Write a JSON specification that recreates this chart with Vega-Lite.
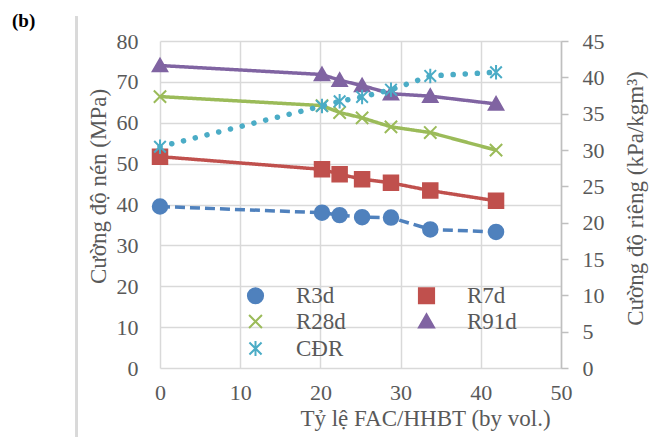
{
  "$schema": "https://vega.github.io/schema/vega-lite/v6.json",
  "autosize": {"type": "none"},
  "width": 401,
  "height": 327,
  "padding": {"left": 160, "top": 41, "right": 92, "bottom": 69},
  "background": "white",
  "config": {"view": {"stroke": null}, "font": "Liberation Serif"},
  "title": {"text": "(b)", "anchor": "start", "frame": "group", "dx": -148, "dy": 34, "offset": 4, "baseline": "alphabetic", "font": "Liberation Serif", "fontWeight": "bold", "fontSize": 19, "color": "#000000"},
  "data": {"values": [
    {"x": 0, "series": "R3d", "v": 39.5}, {"x": 20.2, "series": "R3d", "v": 38.0}, {"x": 22.4, "series": "R3d", "v": 37.4}, {"x": 25.2, "series": "R3d", "v": 36.9}, {"x": 28.8, "series": "R3d", "v": 36.8}, {"x": 33.7, "series": "R3d", "v": 33.9}, {"x": 41.9, "series": "R3d", "v": 33.3},
    {"x": 0, "series": "R7d", "v": 51.7}, {"x": 20.2, "series": "R7d", "v": 48.6}, {"x": 22.4, "series": "R7d", "v": 47.4}, {"x": 25.2, "series": "R7d", "v": 46.2}, {"x": 28.8, "series": "R7d", "v": 45.3}, {"x": 33.7, "series": "R7d", "v": 43.4}, {"x": 41.9, "series": "R7d", "v": 40.9},
    {"x": 0, "series": "R28d", "v": 66.4}, {"x": 20.2, "series": "R28d", "v": 64.2}, {"x": 22.4, "series": "R28d", "v": 62.5}, {"x": 25.2, "series": "R28d", "v": 61.2}, {"x": 28.8, "series": "R28d", "v": 59.0}, {"x": 33.7, "series": "R28d", "v": 57.6}, {"x": 41.9, "series": "R28d", "v": 53.3},
    {"x": 0, "series": "R91d", "v": 74.0}, {"x": 20.2, "series": "R91d", "v": 71.8}, {"x": 22.4, "series": "R91d", "v": 70.4}, {"x": 25.2, "series": "R91d", "v": 69.1}, {"x": 28.8, "series": "R91d", "v": 67.1}, {"x": 33.7, "series": "R91d", "v": 66.5}, {"x": 41.9, "series": "R91d", "v": 64.6},
    {"x": 0, "series": "CĐR", "v": 30.45}, {"x": 20.2, "series": "CĐR", "v": 36.05}, {"x": 22.4, "series": "CĐR", "v": 36.7}, {"x": 25.2, "series": "CĐR", "v": 37.3}, {"x": 28.8, "series": "CĐR", "v": 38.3}, {"x": 33.7, "series": "CĐR", "v": 40.2}, {"x": 41.9, "series": "CĐR", "v": 40.7}
  ]},
  "encoding": {
    "x": {"field": "x", "type": "quantitative", "scale": {"domain": [0, 50], "nice": false, "zero": false},
      "axis": {"values": [0, 10, 20, 30, 40, 50], "grid": true, "gridColor": "#d9d9d9", "gridWidth": 1.5, "domain": false, "ticks": false, "labelFontSize": 22, "labelColor": "#595959", "labelFont": "Liberation Serif", "labelPadding": 14, "labelOverlap": false, "labelFlush": false, "labelBound": false,
        "title": "Tỷ lệ FAC/HHBT (by vol.)", "titleFont": "Liberation Serif", "titleFontSize": 23, "titleFontWeight": "normal", "titleColor": "#595959", "titleX": 265, "titleY": 57, "titleAlign": "center", "titleBaseline": "alphabetic"}}
  },
  "layer": [
    {
      "transform": [{"filter": "datum.series != 'CĐR'"}],
      "encoding": {
        "y": {"field": "v", "type": "quantitative", "scale": {"domain": [0, 80], "nice": false},
          "axis": {"values": [0, 10, 20, 30, 40, 50, 60, 70, 80], "grid": true, "gridColor": "#d9d9d9", "gridWidth": 1.5, "domain": false, "ticks": false, "labelFontSize": 22, "labelColor": "#595959", "labelFont": "Liberation Serif", "labelPadding": 22, "labelOverlap": false, "labelBound": false, "labelFlush": false,
            "title": "Cường độ nén (MPa)", "titleFont": "Liberation Serif", "titleFontSize": 23, "titleFontWeight": "normal", "titleColor": "#595959", "titleAngle": -90, "titleX": -55, "titleY": 145, "titleAlign": "center", "titleBaseline": "alphabetic"}}
      },
      "layer": [
        {
          "mark": {"type": "rule", "color": "#d9d9d9", "strokeWidth": 1.5, "clip": false},
          "encoding": {
            "x": {"datum": -10.4, "type": "quantitative"},
            "y": {"datum": 86, "type": "quantitative"},
            "y2": {"datum": -17}
          }
        },
        {
          "mark": {"type": "line", "strokeWidth": 3.5, "clip": false},
          "encoding": {
            "color": {"field": "series", "type": "nominal",
              "scale": {"domain": ["R3d", "R7d", "R28d", "R91d", "CĐR"], "range": ["#4f81bd", "#c0504d", "#9bbb59", "#8064a2", "#4bacc6"]},
              "legend": {"title": null, "orient": "none", "direction": "horizontal", "legendX": 84, "legendY": 243, "columns": 2, "columnPadding": 68, "rowPadding": 2, "padding": 0,
                "labelFont": "Liberation Serif", "labelFontSize": 23, "labelColor": "#595959", "labelOffset": 29, "symbolSize": 230, "symbolStrokeWidth": 2}
            },
            "strokeDash": {"field": "series", "type": "nominal", "scale": {"domain": ["R3d", "R7d", "R28d", "R91d"], "range": [[10, 5], [1, 0], [1, 0], [1, 0]]}, "legend": null}
          }
        },
        {
          "mark": {"type": "point", "filled": true, "opacity": 1, "size": 210, "strokeWidth": 2, "clip": false},
          "encoding": {
            "color": {"field": "series", "type": "nominal", "legend": null},
            "stroke": {"field": "series", "type": "nominal", "scale": {"domain": ["R3d", "R7d", "R28d", "R91d", "CĐR"], "range": ["#4f81bd", "#c0504d", "#9bbb59", "#8064a2", "#4bacc6"]}, "legend": null},
            "shape": {"field": "series", "type": "nominal", "scale": {"domain": ["R3d", "R7d", "R28d", "R91d", "CĐR"], "range": ["circle", "square", "M-0.85,-0.85L0.85,0.85M-0.85,0.85L0.85,-0.85", "M0,-0.95L1,0.8L-1,0.8Z", "M-0.8,-0.8L0.8,0.8M-0.8,0.8L0.8,-0.8M0,-1L0,1"]}, "legend": null}
          }
        }
      ]
    },
    {
      "transform": [{"filter": "datum.series == 'CĐR'"}],
      "encoding": {
        "y": {"field": "v", "type": "quantitative", "scale": {"domain": [0, 45], "nice": false},
          "axis": {"orient": "right", "values": [0, 5, 10, 15, 20, 25, 30, 35, 40, 45], "grid": false, "domain": true, "domainColor": "#bfbfbf", "domainWidth": 1.5, "ticks": true, "tickColor": "#bfbfbf", "tickWidth": 1.5, "tickSize": 7, "labelFontSize": 22, "labelColor": "#595959", "labelFont": "Liberation Serif", "labelPadding": 14, "labelOverlap": false, "labelBound": false, "labelFlush": false,
            "title": "Cường độ riêng (kPa/kgm³)", "titleFont": "Liberation Serif", "titleFontSize": 23, "titleFontWeight": "normal", "titleColor": "#595959", "titleAngle": -90, "titleX": 81, "titleY": 157, "titleAlign": "center", "titleBaseline": "alphabetic"}}
      },
      "layer": [
        {
          "mark": {"type": "line", "strokeWidth": 5.5, "strokeDash": [0.1, 12], "strokeCap": "round", "clip": false},
          "encoding": {"color": {"field": "series", "type": "nominal"}}
        },
        {
          "mark": {"type": "point", "filled": true, "opacity": 1, "size": 210, "strokeWidth": 2, "clip": false},
          "encoding": {
            "color": {"field": "series", "type": "nominal", "legend": null},
            "stroke": {"field": "series", "type": "nominal", "legend": null},
            "shape": {"field": "series", "type": "nominal", "legend": null}
          }
        }
      ]
    }
  ],
  "resolve": {"scale": {"y": "independent"}}
}
